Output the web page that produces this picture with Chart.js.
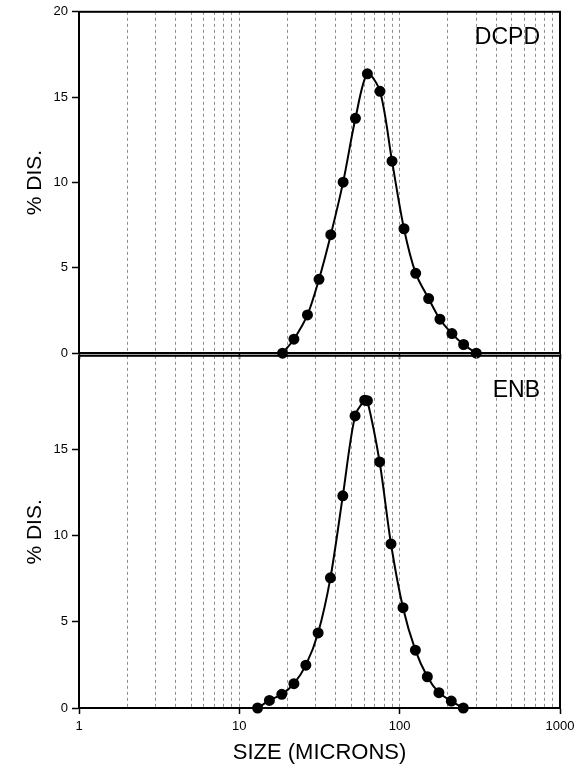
<!DOCTYPE html>
<html>
<head>
<meta charset="utf-8">
<script src="https://cdn.jsdelivr.net/npm/chart.js@4.4.0/dist/chart.umd.min.js"></script>
<style>
  body { margin: 0; background: #fff; }
  #wrap { position: relative; width: 581px; height: 776px; background: #fff; }
  canvas { position: absolute; left: 0; }
</style>
</head>
<body>
<div id="wrap">
  <canvas id="top" width="581" height="365" style="top:0"></canvas>
  <canvas id="bottom" width="581" height="432" style="top:344px"></canvas>
</div>
<script>
// sizes (microns) and % distribution
const dcpdSize = [18.6, 21.9, 26.6, 31.4, 37.2, 44.4, 53.0, 62.9, 75.4, 89.6, 106.4, 125.9, 151.6, 178.3, 211.8, 250.5, 300.5];
const dcpdDist = [0, 0.82, 2.24, 4.33, 6.94, 10.02, 13.76, 16.37, 15.34, 11.25, 7.29, 4.68, 3.2, 1.99, 1.15, 0.51, 0];

const enbSize = [13.0, 15.4, 18.4, 21.9, 26.0, 31.0, 37.0, 44.2, 52.7, 60.5, 62.9, 75.0, 88.3, 104.9, 125.3, 148.8, 175.7, 209.9, 249.4];
const enbDist = [0, 0.44, 0.79, 1.41, 2.48, 4.35, 7.54, 12.29, 16.92, 17.83, 17.80, 14.25, 9.5, 5.81, 3.35, 1.81, 0.89, 0.40, 0];

const xMajor = [1, 10, 100, 1000];
const yTicksTop = [0, 5, 10, 15, 20];
const yTicksBottom = [0, 5, 10, 15];

const FONT = "'Liberation Sans', Arial, sans-serif";

// every 1..9 multiple of each decade, for the dashed grid
let xGrid = [];
for (let i = 0; i < xMajor.length - 1; i++) {
  for (let m = 1; m < 10; m++) xGrid.push(xMajor[i] * m);
}
xGrid.push(xMajor[xMajor.length - 1]);

function pts(xs, ys) {
  let out = [];
  for (let i = 0; i < xs.length; i++) out.push({ x: xs[i], y: ys[i] });
  return out;
}

// frame around the plot + panel name
const frame = {
  id: 'frame',
  beforeDatasetsDraw(chart, args, opts) {
    const { ctx, chartArea: a } = chart;
    ctx.save();
    ctx.strokeStyle = '#000';
    ctx.lineWidth = 2;
    ctx.strokeRect(a.left, a.top, a.right - a.left, a.bottom - a.top);
    ctx.fillStyle = '#000';
    ctx.font = '23px ' + FONT;
    ctx.textAlign = 'right';
    ctx.textBaseline = 'alphabetic';
    ctx.fillText(opts.text, a.right - 20, a.top + opts.dy);
    ctx.restore();
  }
};

function makeChart(id, size, dist, yMax, yTicks, name, dy, isBottom, padTop) {
  return new Chart(document.getElementById(id), {
    type: 'line',
    data: {
      datasets: [{
        data: pts(size, dist),
        borderColor: '#000',
        backgroundColor: '#000',
        borderWidth: 2,
        pointRadius: 4.5,
        pointHoverRadius: 4.5,
        tension: 0.3,
        clip: false
      }]
    },
    options: {
      responsive: false,
      animation: false,
      events: [],
      layout: { padding: { top: padTop, right: 21, left: 0, bottom: 0 } },
      plugins: {
        legend: { display: false },
        tooltip: { enabled: false },
        frame: { text: name, dy: dy }
      },
      scales: {
        x: {
          type: 'logarithmic',
          min: 1,
          max: 1000,
          afterBuildTicks: (s) => { s.ticks = xGrid.map(v => ({ value: v })); },
          afterFit: (s) => { s.height = isBottom ? 68 : 8; },
          grid: {
            color: (c) => (c.tick && (c.tick.value == 1 || c.tick.value == 1000)) ? 'rgba(0,0,0,0)' : '#8c8c8c',
            lineWidth: 1,
            tickColor: (c) => (c.tick && xMajor.includes(c.tick.value)) ? '#000' : 'rgba(0,0,0,0)',
            tickLength: 6,
            tickWidth: 1.5
          },
          border: { color: '#000', width: 2, dash: [3, 3] },
          ticks: {
            display: isBottom,
            autoSkip: false,
            maxRotation: 0,
            padding: 5,
            color: '#000',
            font: { family: FONT, size: 13 },
            callback: (v) => xMajor.includes(v) ? String(v) : ''
          },
          title: {
            display: isBottom,
            text: 'SIZE (MICRONS)',
            color: '#000',
            font: { family: FONT, size: 22 },
            padding: { top: 4, bottom: 10 }
          }
        },
        y: {
          min: 0,
          max: yMax,
          afterBuildTicks: (s) => { s.ticks = yTicks.map(v => ({ value: v })); },
          afterFit: (s) => { s.width = 79; },
          grid: {
            drawOnChartArea: false,
            tickLength: 7,
            tickColor: '#000',
            tickWidth: 1.5
          },
          border: { color: '#000', width: 2 },
          ticks: {
            padding: 4,
            color: '#000',
            font: { family: FONT, size: 13 }
          },
          title: {
            display: true,
            text: '% DIS.',
            color: '#000',
            font: { family: FONT, size: 21 },
            padding: { top: 23, bottom: 0 }
          }
        }
      }
    },
    plugins: [frame]
  });
}

makeChart('top', dcpdSize, dcpdDist, 20, yTicksTop, 'DCPD', 32, false, 11);
makeChart('bottom', enbSize, enbDist, 20.4, yTicksBottom, 'ENB', 41, true, 9);
</script>
</body>
</html>
